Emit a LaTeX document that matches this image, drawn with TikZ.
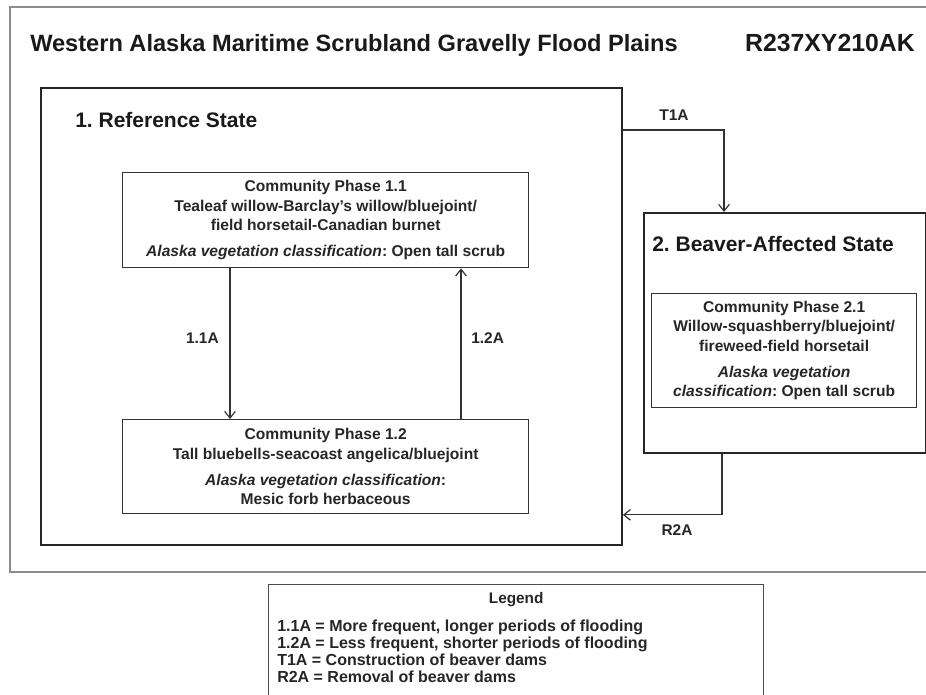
\documentclass[tikz,border=0pt]{standalone}
\usepackage{fontspec}
\setmainfont{Liberation Sans}
\frenchspacing
\usetikzlibrary{positioning,calc,arrows,arrows.meta}

\begin{document}
\begin{tikzpicture}[x=0.75pt, y=-0.75pt, node distance=1.2cm, % one unit is one pixel of the page
    statebox/.style={draw=black!85, line width=1.4pt, anchor=north west, inner sep=0pt},
    phasebox/.style={draw=black!80, line width=1pt, anchor=north west, align=center, text=black!85, font=\bfseries\fontsize{11.7}{14.6}\selectfont},
    translabel/.style={text=black!85, font=\bfseries\fontsize{11.6}{14}\selectfont, inner sep=0pt},
    trans/.style={-{Straight Barb[length=5pt, width=8pt]}, line width=0.9pt, draw=black!80}]

  \useasboundingbox (0,0) rectangle (926,695);

  % Grey frame round the model (its right side runs off the page)
  \draw[black!45, line width=1.5pt] (10,7) rectangle (950,572);

  % Title and code
  \node (title) [anchor=base west, inner sep=0pt, text=black!90, font=\bfseries\fontsize{17.7}{21}\selectfont] at (30,52) {Western Alaska Maritime Scrubland Gravelly Flood Plains};
  \node (code) [anchor=base east, inner sep=0pt, text=black!90, font=\bfseries\fontsize{18.6}{21}\selectfont] at (915,52) {R237XY210AK};

  % Define the two state boxes
  \node (refstate) [statebox, minimum width=435.75pt, minimum height=342.75pt] at (40,87) {};
  \node (beaver) [statebox, minimum width=211.5pt, minimum height=180pt] at (643,212) {};

  % Attach the state names to the top left corners
  \node at ($(refstate.north west) + (35, 41)$) [anchor=base west, inner sep=0pt, text=black!90, font=\bfseries\fontsize{15.75}{19}\selectfont] {1. Reference State};
  \node at ($(beaver.north west) + (9, 40)$) [anchor=base west, inner sep=0pt, text=black!90, font=\bfseries\fontsize{15.75}{19}\selectfont] {2. Beaver-Affected State};

  % Community phases
  \node (phase11) [phasebox, minimum width=304.5pt, minimum height=71.25pt] at (122,172) {Community Phase 1.1\\ Tealeaf willow-Barclay's willow/bluejoint/\\ field horsetail-Canadian burnet\\[5pt] \textit{Alaska vegetation classification}: Open tall scrub};
  \node (phase12) [phasebox, minimum width=304.5pt, minimum height=70.5pt] at (122,419) {Community Phase 1.2\\ Tall bluebells-seacoast angelica/bluejoint\\[5pt] \textit{Alaska vegetation classification}:\\ Mesic forb herbaceous};
  \node (phase21) [phasebox, minimum width=198.75pt, minimum height=85.5pt] at (651,293) {Community Phase 2.1\\ Willow-squashberry/bluejoint/\\ fireweed-field horsetail\\[5pt] \textit{Alaska vegetation}\\ \textit{classification}: Open tall scrub};

  % Pathways between the phases
  \draw[trans] ([xshift=81pt]phase11.south west) -- ([xshift=81pt]phase12.north west);
  \draw[trans] ([xshift=254.25pt]phase12.north west) -- ([xshift=254.25pt]phase11.south west);
  \node at (219,338) [translabel, anchor=east] {1.1A};
  \node at (471,338) [translabel, anchor=west] {1.2A};

  % Transition and restoration between the states
  \draw[trans] ([yshift=-32.25pt]refstate.north east) -| ([xshift=60.75pt]beaver.north west);
  \draw[trans] ([xshift=59.25pt]beaver.south west) |- ([yshift=23.25pt]refstate.south east);
  \node at (674,115) [translabel] {T1A};
  \node at (677,530) [translabel] {R2A};

  % Legend
  \node (legend) [draw=black!70, line width=1pt, anchor=north west, minimum width=371.25pt, minimum height=90pt] at (268,584) {};
  \node at ($(legend.north) + (0, 16)$) [text=black!85, font=\bfseries\fontsize{11.5}{14}\selectfont] {Legend};
  \node at ($(legend.north west) + (9, 36)$) [anchor=north west, inner sep=0pt, align=left, text=black!85, font=\bfseries\fontsize{12}{12.75}\selectfont] {1.1A = More frequent, longer periods of flooding\\ 1.2A = Less frequent, shorter periods of flooding\\ T1A = Construction of beaver dams\\ R2A = Removal of beaver dams};

\end{tikzpicture}
\end{document}
